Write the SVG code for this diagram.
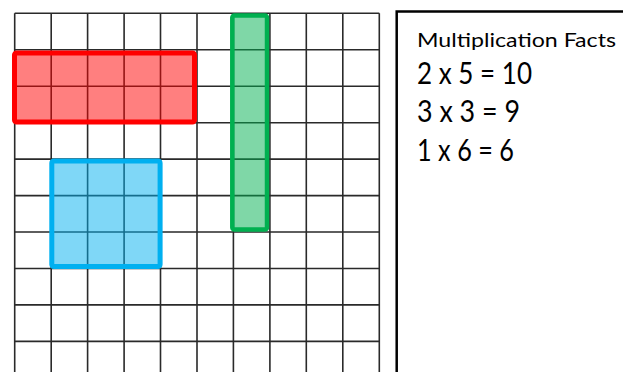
<svg xmlns="http://www.w3.org/2000/svg" width="623" height="372" viewBox="0 0 623 372">
<style>
.grid{stroke:#2a2a2a;stroke-width:1.6;fill:none}
.t{font-family:Lato,"DejaVu Sans",sans-serif;fill:#000}
</style>
<rect width="623" height="372" fill="#fff"/>
<g id="grid">
<path class="grid" d="M14.7 13.3V380M51.2 13.3V380M87.6 13.3V380M124.1 13.3V380M160.5 13.3V380M197 13.3V380M233.4 13.3V380M269.9 13.3V380M306.3 13.3V380M342.8 13.3V380M379.3 13.3V380"/>
<path class="grid" d="M14.7 13.3H379.3M14.7 49.8H379.3M14.7 86.2H379.3M14.7 122.7H379.3M14.7 159.1H379.3M14.7 195.6H379.3M14.7 232H379.3M14.7 268.5H379.3M14.7 304.9H379.3M14.7 341.4H379.3"/>
</g>
<g id="red-array">
<rect x="14.5" y="53" width="180" height="69" rx="2" fill="#ff0000" fill-opacity="0.5" stroke="#ff0000" stroke-width="5"/>
</g>
<g id="green-array">
<rect x="232.3" y="15.5" width="34.7" height="214" rx="2" fill="#00b050" fill-opacity="0.5" stroke="#00b050" stroke-width="4.5"/>
</g>
<g id="blue-array">
<rect x="51.8" y="161" width="108.3" height="105.5" rx="2" fill="#00b0f0" fill-opacity="0.5" stroke="#00b0f0" stroke-width="5"/>
</g>
<g id="facts-box">
<rect x="396.7" y="11.5" width="300" height="400" fill="none" stroke="#000" stroke-width="2.5"/>
<text class="t" x="417" y="47" font-size="20" textLength="199" lengthAdjust="spacingAndGlyphs">Multiplication Facts</text>
<text class="t" x="417" y="84" font-size="30" textLength="115" lengthAdjust="spacingAndGlyphs">2 x 5 = 10</text>
<text class="t" x="417" y="122" font-size="30" textLength="103" lengthAdjust="spacingAndGlyphs">3 x 3 = 9</text>
<text class="t" x="417" y="161" font-size="30" textLength="97" lengthAdjust="spacingAndGlyphs">1 x 6 = 6</text>
</g>
</svg>
